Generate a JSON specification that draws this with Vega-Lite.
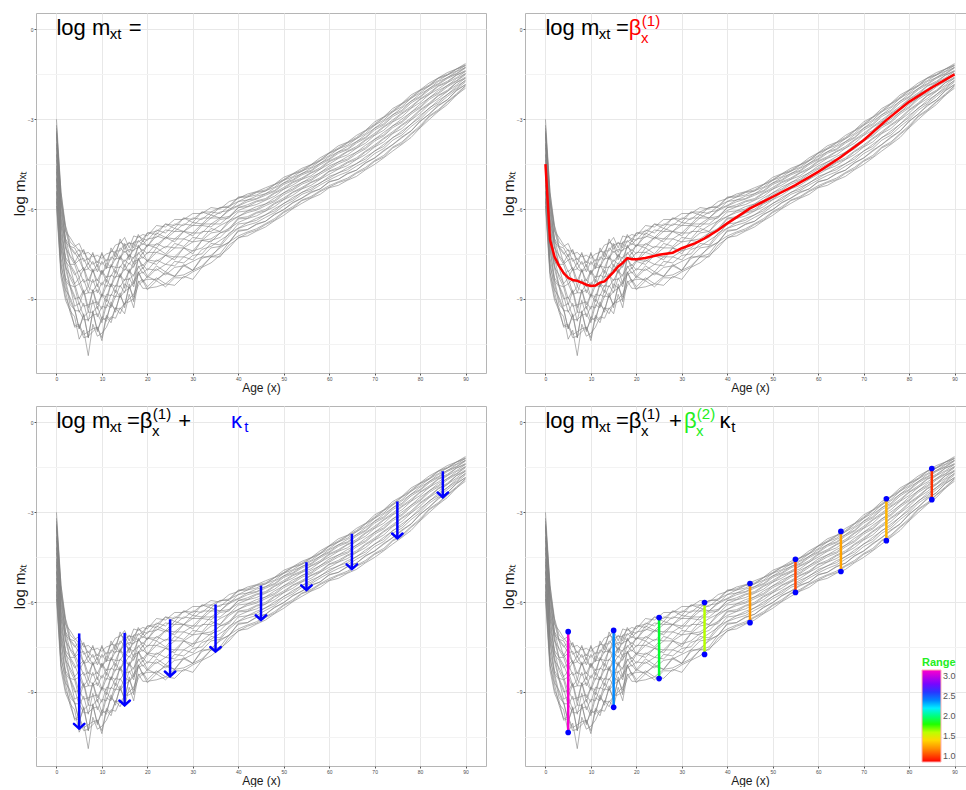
{
"$schema":"https://vega.github.io/schema/vega-lite/v6.json",
"background":"white",
"padding":{"left":11,"top":12,"right":0,"bottom":0},
"config":{
 "font":"Liberation Sans",
 "view":{"stroke":"#b5b5b5","strokeWidth":1},
 "axis":{"labelFontSize":5,"labelColor":"#4d4d4d","tickColor":"#555","tickSize":2,"labelPadding":1,"domain":false,"titleFontWeight":"normal","titleColor":"#1a1a1a","titleFont":"Liberation Sans"},
 "axisX":{"titleFontSize":12,"titlePadding":1},
 "axisY":{"titleFontSize":15,"titlePadding":0}
},
"resolve":{"legend":{"color":"independent"}},
"datasets":{
"m":[
{"x":0,"a":-3.0,"b":-3.3,"c":-3.4,"d":-3.5,"e":-3.6,"f":-3.8,"g":-3.95,"h":-4.15,"i":-4.35,"j":-4.55,"k":-4.75,"l":-4.95,"m":-5.2,"n":-5.4,"o":-5.65,"p":-5.9,"q":-3.2,"r":-3.45,"s":-3.85,"t":-4.2,"u":-4.65,"v":-5.0,"w":-5.45,"z":-5.75},
{"x":1,"a":-5.45,"b":-5.42,"c":-5.7,"d":-5.74,"e":-6.02,"f":-6.1,"g":-6.4,"h":-6.5,"i":-6.8,"j":-6.9,"k":-7.2,"l":-7.3,"m":-7.65,"n":-7.8,"o":-8.12,"p":-8.28,"q":-5.65,"r":-5.8,"s":-6.3,"t":-6.55,"u":-7.1,"v":-7.35,"w":-7.9,"z":-8.1},
{"x":2,"a":-6.55,"b":-6.75,"c":-6.72,"d":-7.0,"e":-7.0,"f":-7.3,"g":-7.3,"h":-7.62,"i":-7.65,"j":-7.95,"k":-8.0,"l":-8.3,"m":-8.38,"n":-8.7,"o":-8.75,"p":-9.05,"q":-6.6,"r":-7.1,"s":-7.15,"t":-7.75,"u":-7.85,"v":-8.4,"w":-8.5,"z":-8.95},
{"x":3,"a":-7.1,"b":-6.95,"c":-7.3,"d":-7.25,"e":-7.6,"f":-7.55,"g":-7.9,"h":-7.85,"i":-8.3,"j":-8.2,"k":-8.6,"l":-8.55,"m":-9.05,"n":-8.95,"o":-9.45,"p":-9.4,"q":-7.25,"r":-7.3,"s":-7.85,"t":-7.95,"u":-8.55,"v":-8.6,"w":-9.2,"z":-9.3},
{"x":4,"a":-7.25,"b":-7.2,"c":-7.5,"d":-7.45,"e":-7.85,"f":-7.75,"g":-8.2,"h":-8.1,"i":-8.6,"j":-8.5,"k":-9.0,"l":-8.9,"m":-9.4,"n":-9.35,"o":-9.9,"p":-9.6,"q":-7.3,"r":-7.8,"s":-7.85,"t":-8.5,"u":-8.6,"v":-9.25,"w":-9.35,"z":-9.95},
{"x":5,"a":-7.15,"b":-7.4,"c":-7.35,"d":-7.7,"e":-7.7,"f":-8.1,"g":-8.05,"h":-8.5,"i":-8.5,"j":-9.0,"k":-8.95,"l":-9.45,"m":-9.4,"n":-10.0,"o":-9.85,"p":-10.35,"q":-7.6,"r":-7.5,"s":-8.3,"t":-8.3,"u":-9.2,"v":-9.15,"w":-10.0,"z":-9.9},
{"x":6,"a":-7.5,"b":-7.4,"c":-7.75,"d":-7.65,"e":-8.05,"f":-7.95,"g":-8.45,"h":-8.35,"i":-8.85,"j":-8.7,"k":-9.25,"l":-9.15,"m":-9.7,"n":-9.55,"o":-10.2,"p":-10.05,"q":-7.35,"r":-8.05,"s":-8.0,"t":-8.8,"u":-8.75,"v":-9.6,"w":-9.5,"z":-10.3},
{"x":7,"a":-7.45,"b":-7.7,"c":-7.65,"d":-8.0,"e":-8.0,"f":-8.4,"g":-8.35,"h":-8.8,"i":-8.8,"j":-9.3,"k":-9.2,"l":-9.75,"m":-9.7,"n":-10.3,"o":-10.1,"p":-10.9,"q":-7.85,"r":-7.8,"s":-8.6,"t":-8.6,"u":-9.45,"v":-9.45,"w":-10.3,"z":-10.25},
{"x":8,"a":-7.6,"b":-7.5,"c":-7.85,"d":-7.75,"e":-8.1,"f":-8.05,"g":-8.45,"h":-8.35,"i":-8.8,"j":-8.7,"k":-9.15,"l":-9.05,"m":-9.55,"n":-9.45,"o":-10.0,"p":-9.85,"q":-7.45,"r":-8.1,"s":-8.0,"t":-8.75,"u":-8.7,"v":-9.45,"w":-9.4,"z":-10.1},
{"x":9,"a":-7.55,"b":-7.8,"c":-7.75,"d":-8.1,"e":-8.0,"f":-8.4,"g":-8.35,"h":-8.8,"i":-8.7,"j":-9.2,"k":-9.1,"l":-9.6,"m":-9.5,"n":-10.05,"o":-9.95,"p":-10.25,"q":-7.95,"r":-7.85,"s":-8.6,"t":-8.5,"u":-9.35,"v":-9.25,"w":-10.1,"z":-9.95},
{"x":10,"a":-7.65,"b":-7.5,"c":-7.85,"d":-7.75,"e":-8.15,"f":-8.05,"g":-8.55,"h":-8.45,"i":-8.95,"j":-8.85,"k":-9.35,"l":-9.25,"m":-9.8,"n":-9.7,"o":-10.3,"p":-10.15,"q":-7.45,"r":-8.2,"s":-8.05,"t":-8.9,"u":-8.85,"v":-9.7,"w":-9.6,"z":-10.4},
{"x":11,"a":-7.5,"b":-7.75,"c":-7.7,"d":-8.0,"e":-7.95,"f":-8.3,"g":-8.25,"h":-8.6,"i":-8.55,"j":-8.95,"k":-8.85,"l":-9.3,"m":-9.2,"n":-9.65,"o":-9.55,"p":-9.95,"q":-7.95,"r":-7.8,"s":-8.45,"t":-8.35,"u":-9.1,"v":-9.0,"w":-9.75,"z":-9.6},
{"x":12,"a":-7.45,"b":-7.4,"c":-7.7,"d":-7.6,"e":-7.95,"f":-7.9,"g":-8.25,"h":-8.2,"i":-8.6,"j":-8.5,"k":-8.9,"l":-8.85,"m":-9.3,"n":-9.2,"o":-9.7,"p":-9.6,"q":-7.3,"r":-7.95,"s":-7.85,"t":-8.6,"u":-8.5,"v":-9.25,"w":-9.1,"z":-9.8},
{"x":13,"a":-7.2,"b":-7.45,"c":-7.4,"d":-7.7,"e":-7.65,"f":-7.95,"g":-7.95,"h":-8.3,"i":-8.25,"j":-8.6,"k":-8.55,"l":-8.95,"m":-8.9,"n":-9.35,"o":-9.3,"p":-9.65,"q":-7.6,"r":-7.45,"s":-8.15,"t":-8.05,"u":-8.8,"v":-8.7,"w":-9.45,"z":-9.3},
{"x":14,"a":-7.15,"b":-7.1,"c":-7.4,"d":-7.3,"e":-7.65,"f":-7.6,"g":-7.95,"h":-7.9,"i":-8.25,"j":-8.2,"k":-8.6,"l":-8.55,"m":-8.95,"n":-8.9,"o":-9.35,"p":-9.3,"q":-7.0,"r":-7.7,"s":-7.55,"t":-8.3,"u":-8.15,"v":-8.95,"w":-8.8,"z":-9.5},
{"x":15,"a":-6.95,"b":-7.2,"c":-7.15,"d":-7.45,"e":-7.4,"f":-7.75,"g":-7.7,"h":-8.05,"i":-8.0,"j":-8.4,"k":-8.35,"l":-8.8,"m":-8.75,"n":-9.2,"o":-9.15,"p":-9.5,"q":-7.35,"r":-7.2,"s":-7.95,"t":-7.85,"u":-8.65,"v":-8.5,"w":-9.3,"z":-9.15},
{"x":16,"a":-7.3,"b":-7.15,"c":-7.45,"d":-7.35,"e":-7.6,"f":-7.55,"g":-7.85,"h":-7.8,"i":-8.1,"j":-8.05,"k":-8.35,"l":-8.3,"m":-8.65,"n":-8.6,"o":-9.0,"p":-8.85,"q":-7.1,"r":-7.7,"s":-7.5,"t":-8.15,"u":-8.0,"v":-8.65,"w":-8.5,"z":-9.1},
{"x":17,"a":-6.9,"b":-7.15,"c":-7.1,"d":-7.4,"e":-7.35,"f":-7.65,"g":-7.6,"h":-7.95,"i":-7.9,"j":-8.25,"k":-8.2,"l":-8.6,"m":-8.5,"n":-8.95,"o":-8.85,"p":-9.3,"q":-7.3,"r":-7.15,"s":-7.85,"t":-7.75,"u":-8.5,"v":-8.4,"w":-9.1,"z":-9.0},
{"x":18,"a":-6.95,"b":-6.9,"c":-7.1,"d":-7.05,"e":-7.3,"f":-7.25,"g":-7.5,"h":-7.45,"i":-7.7,"j":-7.65,"k":-7.95,"l":-7.9,"m":-8.2,"n":-8.1,"o":-8.45,"p":-8.4,"q":-6.85,"r":-7.3,"s":-7.2,"t":-7.7,"u":-7.65,"v":-8.15,"w":-8.1,"z":-8.55},
{"x":19,"a":-6.85,"b":-7.0,"c":-7.0,"d":-7.2,"e":-7.15,"f":-7.4,"g":-7.35,"h":-7.65,"i":-7.6,"j":-7.9,"k":-7.85,"l":-8.15,"m":-8.1,"n":-8.4,"o":-8.35,"p":-8.65,"q":-7.1,"r":-7.05,"s":-7.5,"t":-7.45,"u":-8.0,"v":-7.95,"w":-8.45,"z":-8.4},
{"x":20,"a":-6.9,"b":-6.8,"c":-7.05,"d":-7.0,"e":-7.25,"f":-7.2,"g":-7.5,"h":-7.45,"i":-7.75,"j":-7.7,"k":-8.05,"l":-8.0,"m":-8.3,"n":-8.35,"o":-8.6,"p":-8.65,"q":-6.8,"r":-7.25,"s":-7.2,"t":-7.75,"u":-7.75,"v":-8.25,"w":-8.25,"z":-8.7},
{"x":22,"a":-6.55,"b":-6.75,"c":-6.7,"d":-6.95,"e":-6.9,"f":-7.2,"g":-7.15,"h":-7.45,"i":-7.45,"j":-7.75,"k":-7.7,"l":-8.05,"m":-8.0,"n":-8.35,"o":-8.3,"p":-8.6,"q":-6.85,"r":-6.8,"s":-7.3,"t":-7.3,"u":-7.85,"v":-7.9,"w":-8.4,"z":-8.4},
{"x":24,"a":-6.6,"b":-6.5,"c":-6.8,"d":-6.7,"e":-7.0,"f":-6.95,"g":-7.3,"h":-7.25,"i":-7.55,"j":-7.55,"k":-7.85,"l":-7.85,"m":-8.2,"n":-8.15,"o":-8.5,"p":-8.5,"q":-6.5,"r":-6.95,"s":-6.95,"t":-7.5,"u":-7.55,"v":-8.1,"w":-8.1,"z":-8.6},
{"x":26,"a":-6.35,"b":-6.55,"c":-6.5,"d":-6.75,"e":-6.75,"f":-7.0,"g":-7.0,"h":-7.3,"i":-7.3,"j":-7.6,"k":-7.6,"l":-7.9,"m":-7.95,"n":-8.25,"o":-8.25,"p":-8.55,"q":-6.65,"r":-6.65,"s":-7.1,"t":-7.15,"u":-7.7,"v":-7.75,"w":-8.25,"z":-8.3},
{"x":28,"a":-6.35,"b":-6.3,"c":-6.55,"d":-6.5,"e":-6.75,"f":-6.75,"g":-7.0,"h":-7.0,"i":-7.3,"j":-7.3,"k":-7.6,"l":-7.6,"m":-7.9,"n":-7.9,"o":-8.2,"p":-8.25,"q":-6.3,"r":-6.75,"s":-6.75,"t":-7.25,"u":-7.3,"v":-7.8,"w":-7.85,"z":-8.3},
{"x":30,"a":-6.15,"b":-6.35,"c":-6.3,"d":-6.55,"e":-6.55,"f":-6.8,"g":-6.8,"h":-7.1,"i":-7.1,"j":-7.4,"k":-7.4,"l":-7.7,"m":-7.75,"n":-8.05,"o":-8.05,"p":-8.35,"q":-6.45,"r":-6.45,"s":-6.9,"t":-6.95,"u":-7.5,"v":-7.55,"w":-8.05,"z":-8.1},
{"x":32,"a":-6.15,"b":-6.1,"c":-6.35,"d":-6.3,"e":-6.55,"f":-6.5,"g":-6.8,"h":-6.75,"i":-7.05,"j":-7.05,"k":-7.3,"l":-7.35,"m":-7.6,"n":-7.65,"o":-7.9,"p":-7.95,"q":-6.1,"r":-6.5,"s":-6.55,"t":-7.0,"u":-7.05,"v":-7.5,"w":-7.6,"z":-7.95},
{"x":34,"a":-5.95,"b":-6.1,"c":-6.1,"d":-6.3,"e":-6.3,"f":-6.5,"g":-6.5,"h":-6.75,"i":-6.8,"j":-7.0,"k":-7.05,"l":-7.25,"m":-7.3,"n":-7.55,"o":-7.6,"p":-7.8,"q":-6.2,"r":-6.2,"s":-6.6,"t":-6.65,"u":-7.1,"v":-7.15,"w":-7.6,"z":-7.6},
{"x":36,"a":-6.0,"b":-5.95,"c":-6.15,"d":-6.1,"e":-6.3,"f":-6.3,"g":-6.5,"h":-6.55,"i":-6.75,"j":-6.8,"k":-6.95,"l":-7.05,"m":-7.25,"n":-7.3,"o":-7.5,"p":-7.55,"q":-5.95,"r":-6.3,"s":-6.35,"t":-6.75,"u":-6.8,"v":-7.2,"w":-7.25,"z":-7.6},
{"x":38,"a":-5.75,"b":-5.9,"c":-5.9,"d":-6.05,"e":-6.05,"f":-6.25,"g":-6.25,"h":-6.4,"i":-6.45,"j":-6.65,"k":-6.65,"l":-6.85,"m":-6.9,"n":-7.1,"o":-7.1,"p":-7.3,"q":-5.95,"r":-6.0,"s":-6.3,"t":-6.38,"u":-6.72,"v":-6.8,"w":-7.12,"z":-7.2},
{"x":40,"a":-5.65,"b":-5.6,"c":-5.75,"d":-5.75,"e":-5.9,"f":-5.95,"g":-6.05,"h":-6.1,"i":-6.25,"j":-6.3,"k":-6.45,"l":-6.5,"m":-6.65,"n":-6.75,"o":-6.9,"p":-6.95,"q":-5.62,"r":-5.88,"s":-5.95,"t":-6.25,"u":-6.33,"v":-6.64,"w":-6.71,"z":-6.98},
{"x":42,"a":-5.5,"b":-5.56,"c":-5.6,"d":-5.7,"e":-5.76,"f":-5.86,"g":-5.93,"h":-6.06,"i":-6.12,"j":-6.26,"k":-6.32,"l":-6.46,"m":-6.54,"n":-6.69,"o":-6.77,"p":-6.9,"q":-5.6,"r":-5.7,"s":-5.92,"t":-6.07,"u":-6.31,"v":-6.46,"w":-6.69,"z":-6.81},
{"x":44,"a":-5.42,"b":-5.43,"c":-5.53,"d":-5.57,"e":-5.67,"f":-5.73,"g":-5.85,"h":-5.92,"i":-6.04,"j":-6.11,"k":-6.23,"l":-6.31,"m":-6.45,"n":-6.52,"o":-6.66,"p":-6.74,"q":-5.45,"r":-5.65,"s":-5.76,"t":-6.0,"u":-6.14,"v":-6.38,"w":-6.5,"z":-6.71},
{"x":46,"a":-5.29,"b":-5.36,"c":-5.39,"d":-5.49,"e":-5.54,"f":-5.65,"g":-5.71,"h":-5.83,"i":-5.89,"j":-6.01,"k":-6.07,"l":-6.2,"m":-6.28,"n":-6.41,"o":-6.49,"p":-6.6,"q":-5.4,"r":-5.49,"s":-5.69,"t":-5.83,"u":-6.06,"v":-6.19,"w":-6.41,"z":-6.52},
{"x":48,"a":-5.17,"b":-5.18,"c":-5.27,"d":-5.3,"e":-5.41,"f":-5.45,"g":-5.57,"h":-5.63,"i":-5.75,"j":-5.8,"k":-5.92,"l":-5.99,"m":-6.12,"n":-6.19,"o":-6.32,"p":-6.39,"q":-5.19,"r":-5.38,"s":-5.48,"t":-5.71,"u":-5.83,"v":-6.06,"w":-6.17,"z":-6.37},
{"x":50,"a":-4.94,"b":-5.01,"c":-5.04,"d":-5.13,"e":-5.18,"f":-5.28,"g":-5.34,"h":-5.46,"i":-5.52,"j":-5.63,"k":-5.69,"l":-5.82,"m":-5.89,"n":-6.02,"o":-6.09,"p":-6.21,"q":-5.04,"r":-5.13,"s":-5.33,"t":-5.46,"u":-5.68,"v":-5.81,"w":-6.02,"z":-6.12},
{"x":52,"a":-4.82,"b":-4.83,"c":-4.92,"d":-4.95,"e":-5.05,"f":-5.09,"g":-5.2,"h":-5.26,"i":-5.37,"j":-5.43,"k":-5.54,"l":-5.61,"m":-5.73,"n":-5.8,"o":-5.92,"p":-5.99,"q":-4.84,"r":-5.02,"s":-5.12,"t":-5.33,"u":-5.45,"v":-5.67,"w":-5.78,"z":-5.97},
{"x":54,"a":-4.64,"b":-4.7,"c":-4.73,"d":-4.82,"e":-4.86,"f":-4.96,"g":-5.01,"h":-5.12,"i":-5.17,"j":-5.28,"k":-5.33,"l":-5.45,"m":-5.51,"n":-5.64,"o":-5.7,"p":-5.81,"q":-4.74,"r":-4.81,"s":-5.0,"t":-5.11,"u":-5.32,"v":-5.44,"w":-5.63,"z":-5.72},
{"x":56,"a":-4.52,"b":-4.52,"c":-4.61,"d":-4.64,"e":-4.74,"f":-4.78,"g":-4.89,"h":-4.94,"i":-5.05,"j":-5.1,"k":-5.21,"l":-5.27,"m":-5.39,"n":-5.46,"o":-5.58,"p":-5.64,"q":-4.54,"r":-4.71,"s":-4.8,"t":-5.01,"u":-5.12,"v":-5.34,"w":-5.43,"z":-5.62},
{"x":58,"a":-4.29,"b":-4.36,"c":-4.39,"d":-4.48,"e":-4.52,"f":-4.62,"g":-4.67,"h":-4.79,"i":-4.84,"j":-4.96,"k":-5.01,"l":-5.14,"m":-5.2,"n":-5.33,"o":-5.39,"p":-5.51,"q":-4.39,"r":-4.47,"s":-4.67,"t":-4.78,"u":-5.0,"v":-5.12,"w":-5.33,"z":-5.42},
{"x":60,"a":-4.12,"b":-4.13,"c":-4.22,"d":-4.25,"e":-4.35,"f":-4.39,"g":-4.5,"h":-4.56,"i":-4.67,"j":-4.73,"k":-4.84,"l":-4.91,"m":-5.03,"n":-5.1,"o":-5.22,"p":-5.29,"q":-4.14,"r":-4.32,"s":-4.42,"t":-4.63,"u":-4.75,"v":-4.97,"w":-5.08,"z":-5.27},
{"x":62,"a":-3.89,"b":-3.96,"c":-3.99,"d":-4.09,"e":-4.14,"f":-4.25,"g":-4.31,"h":-4.43,"i":-4.49,"j":-4.61,"k":-4.67,"l":-4.8,"m":-4.88,"n":-5.01,"o":-5.09,"p":-5.21,"q":-4.0,"r":-4.09,"s":-4.29,"t":-4.43,"u":-4.66,"v":-4.79,"w":-5.01,"z":-5.12},
{"x":64,"a":-3.77,"b":-3.78,"c":-3.87,"d":-3.91,"e":-4.02,"f":-4.07,"g":-4.19,"h":-4.25,"i":-4.37,"j":-4.43,"k":-4.55,"l":-4.62,"m":-4.76,"n":-4.83,"o":-4.97,"p":-5.04,"q":-3.8,"r":-3.99,"s":-4.09,"t":-4.33,"u":-4.46,"v":-4.69,"w":-4.81,"z":-5.02},
{"x":66,"a":-3.54,"b":-3.61,"c":-3.65,"d":-3.75,"e":-3.8,"f":-3.91,"g":-3.97,"h":-4.1,"i":-4.16,"j":-4.29,"k":-4.35,"l":-4.49,"m":-4.57,"n":-4.7,"o":-4.78,"p":-4.91,"q":-3.65,"r":-3.75,"s":-3.96,"t":-4.1,"u":-4.34,"v":-4.48,"w":-4.7,"z":-4.81},
{"x":68,"a":-3.37,"b":-3.38,"c":-3.48,"d":-3.52,"e":-3.63,"f":-3.68,"g":-3.8,"h":-3.87,"i":-3.99,"j":-4.06,"k":-4.18,"l":-4.26,"m":-4.4,"n":-4.47,"o":-4.61,"p":-4.69,"q":-3.4,"r":-3.6,"s":-3.71,"t":-3.95,"u":-4.09,"v":-4.33,"w":-4.45,"z":-4.66},
{"x":70,"a":-3.09,"b":-3.16,"c":-3.2,"d":-3.3,"e":-3.36,"f":-3.47,"g":-3.54,"h":-3.67,"i":-3.73,"j":-3.86,"k":-3.93,"l":-4.07,"m":-4.15,"n":-4.3,"o":-4.38,"p":-4.51,"q":-3.2,"r":-3.3,"s":-3.52,"t":-3.67,"u":-3.91,"v":-4.06,"w":-4.29,"z":-4.41},
{"x":72,"a":-2.92,"b":-2.93,"c":-3.03,"d":-3.07,"e":-3.19,"f":-3.24,"g":-3.37,"h":-3.44,"i":-3.56,"j":-3.63,"k":-3.76,"l":-3.84,"m":-3.98,"n":-4.07,"o":-4.21,"p":-4.29,"q":-2.95,"r":-3.15,"s":-3.27,"t":-3.52,"u":-3.66,"v":-3.91,"w":-4.04,"z":-4.26},
{"x":74,"a":-2.64,"b":-2.71,"c":-2.75,"d":-2.85,"e":-2.91,"f":-3.02,"g":-3.09,"h":-3.22,"i":-3.28,"j":-3.41,"k":-3.48,"l":-3.62,"m":-3.7,"n":-3.85,"o":-3.93,"p":-4.06,"q":-2.75,"r":-2.85,"s":-3.07,"t":-3.22,"u":-3.46,"v":-3.61,"w":-3.84,"z":-3.96},
{"x":76,"a":-2.47,"b":-2.48,"c":-2.58,"d":-2.62,"e":-2.74,"f":-2.79,"g":-2.92,"h":-2.99,"i":-3.11,"j":-3.18,"k":-3.31,"l":-3.39,"m":-3.53,"n":-3.62,"o":-3.76,"p":-3.84,"q":-2.5,"r":-2.7,"s":-2.82,"t":-3.07,"u":-3.21,"v":-3.46,"w":-3.59,"z":-3.81},
{"x":78,"a":-2.19,"b":-2.26,"c":-2.3,"d":-2.4,"e":-2.46,"f":-2.57,"g":-2.64,"h":-2.77,"i":-2.83,"j":-2.96,"k":-3.03,"l":-3.17,"m":-3.25,"n":-3.4,"o":-3.48,"p":-3.61,"q":-2.3,"r":-2.4,"s":-2.62,"t":-2.77,"u":-3.01,"v":-3.16,"w":-3.39,"z":-3.51},
{"x":80,"a":-2.02,"b":-2.03,"c":-2.12,"d":-2.16,"e":-2.27,"f":-2.32,"g":-2.44,"h":-2.5,"i":-2.62,"j":-2.68,"k":-2.8,"l":-2.87,"m":-3.01,"n":-3.08,"o":-3.22,"p":-3.29,"q":-2.05,"r":-2.24,"s":-2.34,"t":-2.58,"u":-2.71,"v":-2.94,"w":-3.06,"z":-3.27},
{"x":82,"a":-1.79,"b":-1.86,"c":-1.89,"d":-1.98,"e":-2.02,"f":-2.12,"g":-2.17,"h":-2.29,"i":-2.34,"j":-2.46,"k":-2.51,"l":-2.64,"m":-2.7,"n":-2.83,"o":-2.89,"p":-3.01,"q":-1.89,"r":-1.97,"s":-2.17,"t":-2.28,"u":-2.5,"v":-2.62,"w":-2.83,"z":-2.92},
{"x":84,"a":-1.62,"b":-1.62,"c":-1.71,"d":-1.74,"e":-1.84,"f":-1.88,"g":-1.99,"h":-2.04,"i":-2.15,"j":-2.2,"k":-2.31,"l":-2.37,"m":-2.49,"n":-2.56,"o":-2.68,"p":-2.74,"q":-1.64,"r":-1.81,"s":-1.9,"t":-2.11,"u":-2.22,"v":-2.44,"w":-2.53,"z":-2.72},
{"x":86,"a":-1.44,"b":-1.5,"c":-1.52,"d":-1.61,"e":-1.64,"f":-1.73,"g":-1.78,"h":-1.88,"i":-1.92,"j":-2.03,"k":-2.07,"l":-2.18,"m":-2.24,"n":-2.35,"o":-2.41,"p":-2.51,"q":-1.53,"r":-1.6,"s":-1.77,"t":-1.87,"u":-2.07,"v":-2.17,"w":-2.35,"z":-2.43},
{"x":88,"a":-1.32,"b":-1.32,"c":-1.39,"d":-1.41,"e":-1.49,"f":-1.52,"g":-1.61,"h":-1.64,"i":-1.73,"j":-1.77,"k":-1.86,"l":-1.9,"m":-2.0,"n":-2.05,"o":-2.15,"p":-2.19,"q":-1.33,"r":-1.47,"s":-1.53,"t":-1.71,"u":-1.78,"v":-1.96,"w":-2.03,"z":-2.19},
{"x":90,"a":-1.14,"b":-1.18,"c":-1.2,"d":-1.27,"e":-1.29,"f":-1.37,"g":-1.4,"h":-1.48,"i":-1.51,"j":-1.59,"k":-1.62,"l":-1.71,"m":-1.75,"n":-1.84,"o":-1.88,"p":-1.96,"q":-1.21,"r":-1.26,"s":-1.4,"t":-1.47,"u":-1.63,"v":-1.69,"w":-1.84,"z":-1.89}
],
"b1":[
{"x":0,"y":-4.5},{"x":1,"y":-7.03},{"x":2,"y":-7.6},{"x":3,"y":-7.9},{"x":4,"y":-8.14},{"x":5,"y":-8.3},{"x":6,"y":-8.37},{"x":7,"y":-8.4},{"x":8,"y":-8.46},{"x":9,"y":-8.53},{"x":10,"y":-8.57},{"x":11,"y":-8.56},{"x":12,"y":-8.46},{"x":13,"y":-8.42},{"x":14,"y":-8.26},{"x":15,"y":-8.1},{"x":16,"y":-7.92},{"x":17,"y":-7.8},{"x":18,"y":-7.64},{"x":19,"y":-7.68},{"x":20,"y":-7.68},{"x":22,"y":-7.64},{"x":25,"y":-7.53},{"x":28,"y":-7.46},{"x":30,"y":-7.31},{"x":33,"y":-7.14},{"x":35,"y":-6.98},{"x":38,"y":-6.7},{"x":40,"y":-6.48},{"x":45,"y":-5.98},{"x":50,"y":-5.59},{"x":55,"y":-5.2},{"x":60,"y":-4.76},{"x":65,"y":-4.26},{"x":70,"y":-3.7},{"x":75,"y":-3.03},{"x":80,"y":-2.42},{"x":85,"y":-1.94},{"x":90,"y":-1.5}
],
"k":[
{"x":5,"top":-7.05,"bot":-10.23},{"x":15,"top":-7.03,"bot":-9.45},{"x":25,"top":-6.58,"bot":-8.48},{"x":35,"top":-6.08,"bot":-7.66},{"x":45,"top":-5.45,"bot":-6.6},{"x":55,"top":-4.67,"bot":-5.6},{"x":65,"top":-3.72,"bot":-4.9},{"x":75,"top":-2.64,"bot":-3.87},{"x":85,"top":-1.63,"bot":-2.5}
],
"r":[
{"x":5,"top":-6.99,"bot":-10.36,"range":3.13},{"x":15,"top":-6.95,"bot":-9.52,"range":2.39},{"x":25,"top":-6.52,"bot":-8.56,"range":1.9},{"x":35,"top":-6.02,"bot":-7.75,"range":1.61},{"x":45,"top":-5.38,"bot":-6.69,"range":1.22},{"x":55,"top":-4.57,"bot":-5.68,"range":1.03},{"x":65,"top":-3.64,"bot":-4.98,"range":1.25},{"x":75,"top":-2.55,"bot":-3.95,"range":1.3},{"x":85,"top":-1.54,"bot":-2.58,"range":0.97}
]
},
"vconcat":[
{"hconcat":[
{"width":450,"height":360,"data":{"values":[{}]},
 "layer":[
  {"data":{"name":"m"},"transform":[{"fold":["a","b","c","d","e","f","g","h","i","j","k","l","m","n","o","p","q","r","s","t","u","v","w","z"],"as":["yr","v"]}],
   "mark":{"type":"line","color":"#808080","strokeWidth":0.6},
   "encoding":{
    "x":{"field":"x","type":"quantitative","title":"Age (x)","scale":{"domain":[-4.5,94.5],"nice":false,"zero":false},"axis":{"values":[0,5,10,15,20,25,30,35,40,45,50,55,60,65,70,75,80,85,90],"labelExpr":"datum.value % 10 === 0 ? datum.label : ''","labelOverlap":false,"labelFlush":false,"gridColor":{"condition":{"test":"datum.value % 10 === 0","value":"#e8e8e8"},"value":"#f3f3f3"},"tickOpacity":{"condition":{"test":"datum.value % 10 === 0","value":1},"value":0}}},
    "y":{"field":"v","type":"quantitative","title":"log mₓₜ","scale":{"domain":[-11.48,0.55],"nice":false,"zero":false},"axis":{"values":[-10.5,-9,-7.5,-6,-4.5,-3,-1.5,0],"labelExpr":"datum.value % 3 === 0 ? datum.label : ''","labelOverlap":false,"labelFlush":false,"gridColor":{"condition":{"test":"datum.value % 3 === 0","value":"#e8e8e8"},"value":"#f3f3f3"},"tickOpacity":{"condition":{"test":"datum.value % 3 === 0","value":1},"value":0}}},
    "detail":{"field":"yr"}}},
  {"mark":{"type":"text","text":"log m","align":"left","baseline":"alphabetic","fontSize":22,"color":"#000"},"encoding":{"x":{"datum":0},"y":{"datum":-0.2}}},
  {"mark":{"type":"text","text":"xt","align":"left","baseline":"alphabetic","fontSize":15,"color":"#000"},"encoding":{"x":{"datum":11.7},"y":{"datum":-0.33}}},
  {"mark":{"type":"text","text":"=","align":"left","baseline":"alphabetic","fontSize":22,"color":"#000"},"encoding":{"x":{"datum":15.9},"y":{"datum":-0.2}}}
 ]},
{"width":450,"height":360,"data":{"values":[{}]},
 "layer":[
  {"data":{"name":"m"},"transform":[{"fold":["a","b","c","d","e","f","g","h","i","j","k","l","m","n","o","p","q","r","s","t","u","v","w","z"],"as":["yr","v"]}],
   "mark":{"type":"line","color":"#808080","strokeWidth":0.6},
   "encoding":{
    "x":{"field":"x","type":"quantitative","title":"Age (x)","scale":{"domain":[-4.5,94.5],"nice":false,"zero":false},"axis":{"values":[0,5,10,15,20,25,30,35,40,45,50,55,60,65,70,75,80,85,90],"labelExpr":"datum.value % 10 === 0 ? datum.label : ''","labelOverlap":false,"labelFlush":false,"gridColor":{"condition":{"test":"datum.value % 10 === 0","value":"#e8e8e8"},"value":"#f3f3f3"},"tickOpacity":{"condition":{"test":"datum.value % 10 === 0","value":1},"value":0}}},
    "y":{"field":"v","type":"quantitative","title":"log mₓₜ","scale":{"domain":[-11.48,0.55],"nice":false,"zero":false},"axis":{"values":[-10.5,-9,-7.5,-6,-4.5,-3,-1.5,0],"labelExpr":"datum.value % 3 === 0 ? datum.label : ''","labelOverlap":false,"labelFlush":false,"gridColor":{"condition":{"test":"datum.value % 3 === 0","value":"#e8e8e8"},"value":"#f3f3f3"},"tickOpacity":{"condition":{"test":"datum.value % 3 === 0","value":1},"value":0}}},
    "detail":{"field":"yr"}}},
  {"data":{"name":"b1"},"mark":{"type":"line","color":"#ff0000","strokeWidth":2.5},"encoding":{"x":{"field":"x","type":"quantitative","title":"Age (x)"},"y":{"field":"y","type":"quantitative","title":"log mₓₜ"}}},
  {"mark":{"type":"text","text":"log m","align":"left","baseline":"alphabetic","fontSize":22,"color":"#000"},"encoding":{"x":{"datum":0},"y":{"datum":-0.2}}},
  {"mark":{"type":"text","text":"xt","align":"left","baseline":"alphabetic","fontSize":15,"color":"#000"},"encoding":{"x":{"datum":11.7},"y":{"datum":-0.33}}},
  {"mark":{"type":"text","text":"=","align":"left","baseline":"alphabetic","fontSize":22,"color":"#000"},"encoding":{"x":{"datum":15.5},"y":{"datum":-0.2}}},
  {"mark":{"type":"text","text":"β","align":"left","baseline":"alphabetic","fontSize":22,"color":"#ff0000"},"encoding":{"x":{"datum":18.3},"y":{"datum":-0.2}}},
  {"mark":{"type":"text","text":"x","align":"left","baseline":"alphabetic","fontSize":15,"color":"#ff0000"},"encoding":{"x":{"datum":21.0},"y":{"datum":-0.45}}},
  {"mark":{"type":"text","text":"(1)","align":"left","baseline":"alphabetic","fontSize":15,"color":"#ff0000"},"encoding":{"x":{"datum":21.2},"y":{"datum":0.1}}}
 ]}
],"spacing":13,"resolve":{"legend":{"color":"independent"}}},
{"hconcat":[
{"width":450,"height":360,"data":{"values":[{}]},
 "layer":[
  {"data":{"name":"m"},"transform":[{"fold":["a","b","c","d","e","f","g","h","i","j","k","l","m","n","o","p","q","r","s","t","u","v","w","z"],"as":["yr","v"]}],
   "mark":{"type":"line","color":"#808080","strokeWidth":0.6},
   "encoding":{
    "x":{"field":"x","type":"quantitative","title":"Age (x)","scale":{"domain":[-4.5,94.5],"nice":false,"zero":false},"axis":{"values":[0,5,10,15,20,25,30,35,40,45,50,55,60,65,70,75,80,85,90],"labelExpr":"datum.value % 10 === 0 ? datum.label : ''","labelOverlap":false,"labelFlush":false,"gridColor":{"condition":{"test":"datum.value % 10 === 0","value":"#e8e8e8"},"value":"#f3f3f3"},"tickOpacity":{"condition":{"test":"datum.value % 10 === 0","value":1},"value":0}}},
    "y":{"field":"v","type":"quantitative","title":"log mₓₜ","scale":{"domain":[-11.48,0.55],"nice":false,"zero":false},"axis":{"values":[-10.5,-9,-7.5,-6,-4.5,-3,-1.5,0],"labelExpr":"datum.value % 3 === 0 ? datum.label : ''","labelOverlap":false,"labelFlush":false,"gridColor":{"condition":{"test":"datum.value % 3 === 0","value":"#e8e8e8"},"value":"#f3f3f3"},"tickOpacity":{"condition":{"test":"datum.value % 3 === 0","value":1},"value":0}}},
    "detail":{"field":"yr"}}},
  {"data":{"name":"k"},"mark":{"type":"rule","color":"#0000ff","strokeWidth":2.5},"encoding":{"x":{"field":"x","type":"quantitative","title":"Age (x)"},"y":{"field":"top","type":"quantitative","title":"log mₓₜ"},"y2":{"field":"bot"}}},
  {"data":{"name":"k"},"mark":{"type":"point","shape":"M-1,-0.9L0,0L1,-0.9","filled":false,"color":"#0000ff","strokeWidth":2.5,"size":110,"opacity":1,"strokeCap":"round","strokeJoin":"miter"},"encoding":{"x":{"field":"x","type":"quantitative","title":"Age (x)"},"y":{"field":"bot","type":"quantitative","title":"log mₓₜ"}}},
  {"mark":{"type":"text","text":"log m","align":"left","baseline":"alphabetic","fontSize":22,"color":"#000"},"encoding":{"x":{"datum":0},"y":{"datum":-0.2}}},
  {"mark":{"type":"text","text":"xt","align":"left","baseline":"alphabetic","fontSize":15,"color":"#000"},"encoding":{"x":{"datum":11.7},"y":{"datum":-0.33}}},
  {"mark":{"type":"text","text":"=","align":"left","baseline":"alphabetic","fontSize":22,"color":"#000"},"encoding":{"x":{"datum":15.5},"y":{"datum":-0.2}}},
  {"mark":{"type":"text","text":"β","align":"left","baseline":"alphabetic","fontSize":22,"color":"#000"},"encoding":{"x":{"datum":18.3},"y":{"datum":-0.2}}},
  {"mark":{"type":"text","text":"x","align":"left","baseline":"alphabetic","fontSize":15,"color":"#000"},"encoding":{"x":{"datum":21.0},"y":{"datum":-0.45}}},
  {"mark":{"type":"text","text":"(1)","align":"left","baseline":"alphabetic","fontSize":15,"color":"#000"},"encoding":{"x":{"datum":21.2},"y":{"datum":0.1}}},
  {"mark":{"type":"text","text":"+","align":"left","baseline":"alphabetic","fontSize":22,"color":"#000"},"encoding":{"x":{"datum":26.8},"y":{"datum":-0.2}}},
  {"mark":{"type":"text","text":"κ","align":"left","baseline":"alphabetic","fontSize":22,"color":"#0000ff"},"encoding":{"x":{"datum":38.4},"y":{"datum":-0.2}}},
  {"mark":{"type":"text","text":"t","align":"left","baseline":"alphabetic","fontSize":15,"color":"#0000ff"},"encoding":{"x":{"datum":41.3},"y":{"datum":-0.33}}}
 ]},
{"width":450,"height":360,"data":{"values":[{}]},
 "layer":[
  {"data":{"name":"m"},"transform":[{"fold":["a","b","c","d","e","f","g","h","i","j","k","l","m","n","o","p","q","r","s","t","u","v","w","z"],"as":["yr","v"]}],
   "mark":{"type":"line","color":"#808080","strokeWidth":0.6},
   "encoding":{
    "x":{"field":"x","type":"quantitative","title":"Age (x)","scale":{"domain":[-4.5,94.5],"nice":false,"zero":false},"axis":{"values":[0,5,10,15,20,25,30,35,40,45,50,55,60,65,70,75,80,85,90],"labelExpr":"datum.value % 10 === 0 ? datum.label : ''","labelOverlap":false,"labelFlush":false,"gridColor":{"condition":{"test":"datum.value % 10 === 0","value":"#e8e8e8"},"value":"#f3f3f3"},"tickOpacity":{"condition":{"test":"datum.value % 10 === 0","value":1},"value":0}}},
    "y":{"field":"v","type":"quantitative","title":"log mₓₜ","scale":{"domain":[-11.48,0.55],"nice":false,"zero":false},"axis":{"values":[-10.5,-9,-7.5,-6,-4.5,-3,-1.5,0],"labelExpr":"datum.value % 3 === 0 ? datum.label : ''","labelOverlap":false,"labelFlush":false,"gridColor":{"condition":{"test":"datum.value % 3 === 0","value":"#e8e8e8"},"value":"#f3f3f3"},"tickOpacity":{"condition":{"test":"datum.value % 3 === 0","value":1},"value":0}}},
    "detail":{"field":"yr"}}},
  {"data":{"name":"r"},"mark":{"type":"rule","strokeWidth":2.5},"encoding":{"x":{"field":"x","type":"quantitative","title":"Age (x)"},"y":{"field":"top","type":"quantitative","title":"log mₓₜ"},"y2":{"field":"bot"},
    "color":{"field":"range","type":"quantitative","scale":{"domain":[0.86,3.15],"range":["#ff0000","#ff8c00","#ffff00","#00ff00","#00ffff","#0050ff","#8000ff","#ff00cc"],"interpolate":"rgb"},
     "legend":{"title":"Range","orient":"none","legendX":397,"legendY":251,"direction":"vertical","titlePadding":2,"gradientLength":92,"gradientThickness":19,"values":[1,1.5,2,2.5,3],"format":".1f","titleColor":"#22ee22","titleFontSize":11,"titleFontWeight":"bold","labelFontSize":9,"labelColor":"#555","gradientStrokeColor":"#ffb0b0","gradientStrokeWidth":1}}}},
  {"data":{"name":"r"},"mark":{"type":"point","filled":true,"color":"#0000ff","size":32,"opacity":1},"encoding":{"x":{"field":"x","type":"quantitative","title":"Age (x)"},"y":{"field":"top","type":"quantitative","title":"log mₓₜ"}}},
  {"data":{"name":"r"},"mark":{"type":"point","filled":true,"color":"#0000ff","size":32,"opacity":1},"encoding":{"x":{"field":"x","type":"quantitative","title":"Age (x)"},"y":{"field":"bot","type":"quantitative","title":"log mₓₜ"}}},
  {"mark":{"type":"text","text":"log m","align":"left","baseline":"alphabetic","fontSize":22,"color":"#000"},"encoding":{"x":{"datum":0},"y":{"datum":-0.2}}},
  {"mark":{"type":"text","text":"xt","align":"left","baseline":"alphabetic","fontSize":15,"color":"#000"},"encoding":{"x":{"datum":11.7},"y":{"datum":-0.33}}},
  {"mark":{"type":"text","text":"=","align":"left","baseline":"alphabetic","fontSize":22,"color":"#000"},"encoding":{"x":{"datum":15.5},"y":{"datum":-0.2}}},
  {"mark":{"type":"text","text":"β","align":"left","baseline":"alphabetic","fontSize":22,"color":"#000"},"encoding":{"x":{"datum":18.3},"y":{"datum":-0.2}}},
  {"mark":{"type":"text","text":"x","align":"left","baseline":"alphabetic","fontSize":15,"color":"#000"},"encoding":{"x":{"datum":21.0},"y":{"datum":-0.45}}},
  {"mark":{"type":"text","text":"(1)","align":"left","baseline":"alphabetic","fontSize":15,"color":"#000"},"encoding":{"x":{"datum":21.2},"y":{"datum":0.1}}},
  {"mark":{"type":"text","text":"+","align":"left","baseline":"alphabetic","fontSize":22,"color":"#000"},"encoding":{"x":{"datum":27.2},"y":{"datum":-0.2}}},
  {"mark":{"type":"text","text":"β","align":"left","baseline":"alphabetic","fontSize":22,"color":"#22ee22"},"encoding":{"x":{"datum":30.5},"y":{"datum":-0.2}}},
  {"mark":{"type":"text","text":"x","align":"left","baseline":"alphabetic","fontSize":15,"color":"#22ee22"},"encoding":{"x":{"datum":33.1},"y":{"datum":-0.45}}},
  {"mark":{"type":"text","text":"(2)","align":"left","baseline":"alphabetic","fontSize":15,"color":"#22ee22"},"encoding":{"x":{"datum":33.3},"y":{"datum":0.1}}},
  {"mark":{"type":"text","text":"κ","align":"left","baseline":"alphabetic","fontSize":22,"color":"#000"},"encoding":{"x":{"datum":38.3},"y":{"datum":-0.2}}},
  {"mark":{"type":"text","text":"t","align":"left","baseline":"alphabetic","fontSize":15,"color":"#000"},"encoding":{"x":{"datum":40.9},"y":{"datum":-0.33}}}
 ]}
],"spacing":13,"resolve":{"legend":{"color":"independent"}}}
],
"spacing":11
}
